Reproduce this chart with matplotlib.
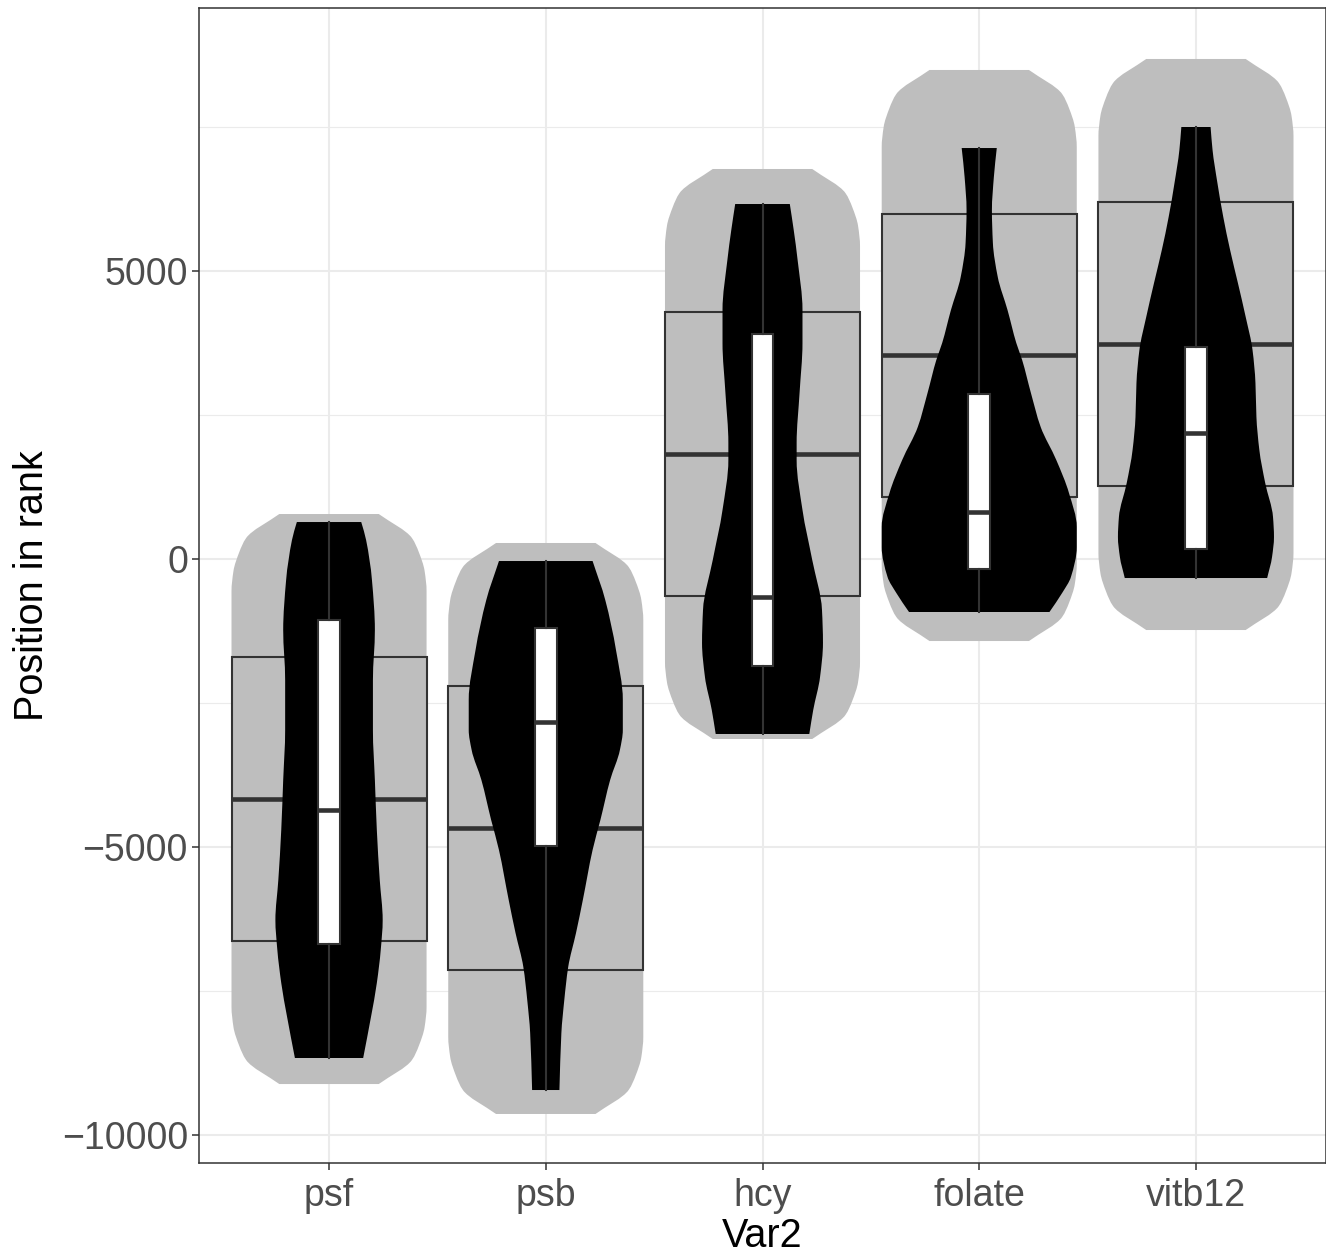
import numpy as np
import matplotlib
matplotlib.use("Agg")
import matplotlib.pyplot as plt
from matplotlib.ticker import FixedLocator
from matplotlib.path import Path
from matplotlib.patches import PathPatch

plt.rcParams['font.family'] = ['Liberation Sans', 'DejaVu Sans']

categories = ["psf", "psb", "hcy", "folate", "vitb12"]

# broad grey violins (extent per category)
grey_top = [781, 278, 6771, 8490, 8681]
grey_bottom = [-9115, -9635, -3125, -1424, -1233]
# rounded ends of the grey violins: distance from the end -> relative density
grey_end_depth = [0, 417, 660, 990, 1340]
grey_end_density = [0.51, 0.85, 0.92, 0.98, 1.0]

# grey (wide) boxplot statistics
grey_q1 = [-6632, -7135, -640, 1076, 1267]
grey_med = [-4167, -4670, 1823, 3536, 3727]
grey_q3 = [-1701, -2205, 4285, 5998, 6190]

# black violins: value and relative density
psf_vals = [642, 330, -365, -1233, -2101, -2969, -3837, -4705, -5573, -6267, -6788, -7361, -7951, -8663]
psf_dens = [0.33, 0.38, 0.44, 0.47, 0.45, 0.45, 0.47, 0.49, 0.52, 0.55, 0.53, 0.49, 0.43, 0.35]

psb_vals = [-35, -712, -1580, -2448, -2969, -3316, -3837, -4531, -5052, -5920, -6493, -7083, -7656, -8229, -9219]
psb_dens = [0.48, 0.61, 0.72, 0.79, 0.79, 0.76, 0.66, 0.56, 0.48, 0.38, 0.31, 0.23, 0.19, 0.16, 0.14]

hcy_vals = [6163, 5712, 5191, 4323, 3750, 2882, 2014, 1719, 851, -17, -885, -1458, -2049, -2622, -3038]
hcy_dens = [0.28, 0.32, 0.36, 0.41, 0.41, 0.38, 0.35, 0.35, 0.41, 0.51, 0.61, 0.62, 0.59, 0.52, 0.48]

folate_vals = [7135, 6632, 6059, 5486, 4896, 4323, 3750, 3455, 2882, 2292, 1719, 1146, 556, 208, -313, -590, -920]
folate_dens = [0.18, 0.15, 0.13, 0.14, 0.19, 0.29, 0.38, 0.44, 0.53, 0.63, 0.79, 0.92, 1.0, 1.0, 0.94, 0.85, 0.72]

vitb12_vals = [7500, 7101, 6528, 5938, 5365, 4792, 4201, 3628, 3056, 2465, 1892, 1319, 729, 382, 35, -330]
vitb12_dens = [0.15, 0.17, 0.22, 0.28, 0.35, 0.43, 0.51, 0.58, 0.61, 0.62, 0.65, 0.71, 0.79, 0.80, 0.78, 0.73]

# inner white boxplot statistics
inner_lo = [-8663, -9219, -3038, -920, -330]
inner_q1 = [-6684, -4983, -1850, -174, 165]
inner_med = [-4358, -2830, -657, 813, 2190]
inner_q3 = [-1059, -1198, 3906, 2871, 3684]
inner_hi = [642, -35, 6163, 7135, 7500]

violin_vals = [psf_vals, psb_vals, hcy_vals, folate_vals, vitb12_vals]
violin_dens = [psf_dens, psb_dens, hcy_dens, folate_dens, vitb12_dens]

MAXW = 0.45
GREY = '#BEBEBE'
DARK = '#333333'


def smooth_curve(xs, ys):
    """Shape-preserving (monotone cubic) Bezier pieces of x(y) through the points."""
    xs = np.asarray(xs, dtype=float)
    ys = np.asarray(ys, dtype=float)
    n = len(xs)
    h = np.diff(ys)
    delta = np.diff(xs) / h
    m = np.zeros(n)
    m[0] = delta[0]
    m[-1] = delta[-1]
    for k in range(1, n - 1):
        if delta[k - 1] * delta[k] <= 0:
            m[k] = 0.0
        else:
            w1 = 2 * h[k] + h[k - 1]
            w2 = h[k] + 2 * h[k - 1]
            m[k] = (w1 + w2) / (w1 / delta[k - 1] + w2 / delta[k])
    verts, codes = [], []
    for i in range(n - 1):
        dy = h[i]
        c1 = (xs[i] + m[i] * dy / 3, ys[i] + dy / 3)
        c2 = (xs[i + 1] - m[i + 1] * dy / 3, ys[i + 1] - dy / 3)
        verts += [c1, c2, (xs[i + 1], ys[i + 1])]
        codes += [Path.CURVE4] * 3
    return verts, codes


def violin_patch(pos, vals, halfw, **kw):
    vals = np.asarray(vals, dtype=float)
    halfw = np.asarray(halfw, dtype=float)
    rx, ry = pos + halfw, vals
    lx, ly = (pos - halfw)[::-1], vals[::-1]
    verts = [(rx[0], ry[0])]
    codes = [Path.MOVETO]
    v, c = smooth_curve(rx, ry)
    verts += v
    codes += c
    verts.append((lx[0], ly[0]))
    codes.append(Path.LINETO)
    v, c = smooth_curve(lx, ly)
    verts += v
    codes += c
    verts.append((rx[0], ry[0]))
    codes.append(Path.CLOSEPOLY)
    return PathPatch(Path(verts, codes), **kw)


fig = plt.figure(figsize=(13.26, 12.55), dpi=100)
ax = fig.add_axes([199 / 1326, 1 - 1163 / 1255, 1127 / 1326, 1155 / 1255])
positions = np.arange(1, len(categories) + 1)

# grey violins
d = np.array(grey_end_depth, dtype=float)
g = np.array(grey_end_density)
for pos, top, bot in zip(positions, grey_top, grey_bottom):
    ys = np.concatenate([top - d, (bot + d)[::-1]])
    ws = np.concatenate([g, g[::-1]]) * MAXW
    ax.add_patch(violin_patch(pos, ys, ws, facecolor=GREY, lw=0, zorder=1))

# wide grey boxplots
grey_stats = [dict(med=m, q1=a, q3=b, whislo=a, whishi=b, fliers=[])
              for a, m, b in zip(grey_q1, grey_med, grey_q3)]
ax.bxp(grey_stats, positions=positions, widths=0.9, patch_artist=True,
       showcaps=False, showfliers=False, manage_ticks=False,
       boxprops=dict(facecolor=GREY, edgecolor=DARK, linewidth=1.5),
       medianprops=dict(color=DARK, linewidth=3.3),
       whiskerprops=dict(linewidth=0), zorder=2)

# black violins
for pos, vals, dens in zip(positions, violin_vals, violin_dens):
    ax.add_patch(violin_patch(pos, vals, np.array(dens) * MAXW,
                              facecolor='black', lw=0, zorder=3))

# inner white boxplots
inner_stats = [dict(med=m, q1=a, q3=b, whislo=lo, whishi=hi, fliers=[])
               for lo, a, m, b, hi in zip(inner_lo, inner_q1, inner_med, inner_q3, inner_hi)]
ax.bxp(inner_stats, positions=positions, widths=0.1, patch_artist=True,
       showcaps=False, showfliers=False, manage_ticks=False,
       boxprops=dict(facecolor='white', edgecolor=DARK, linewidth=1.5),
       medianprops=dict(color=DARK, linewidth=3.3),
       whiskerprops=dict(color=DARK, linewidth=1.5), zorder=4)

ax.set_xlim(0.4, 5.6)
ax.set_ylim(-10486, 9566)
ax.set_xticks(positions)
ax.set_xticklabels(categories)
ax.set_yticks([-10000, -5000, 0, 5000])
ax.set_yticklabels(['\u221210000', '\u22125000', '0', '5000'])
ax.yaxis.set_minor_locator(FixedLocator([-7500, -2500, 2500, 7500]))
ax.set_axisbelow(True)
ax.grid(which='major', color='#EBEBEB', linewidth=1.5)
ax.grid(which='minor', axis='y', color='#EBEBEB', linewidth=0.8)
ax.tick_params(which='major', length=5, width=1.1, color=DARK,
               labelcolor='#4D4D4D', labelsize=27, pad=3)
ax.tick_params(axis='x', which='major', pad=6)
ax.tick_params(which='minor', length=0)
for sp in ax.spines.values():
    sp.set_color(DARK)
    sp.set_linewidth(1.1)

ax.set_xlabel('Var2', fontsize=28.5, color='black', labelpad=2)
ax.set_ylabel('Position in rank', fontsize=28.5, color='black', labelpad=8)

fig.savefig('out.png', dpi=100)
